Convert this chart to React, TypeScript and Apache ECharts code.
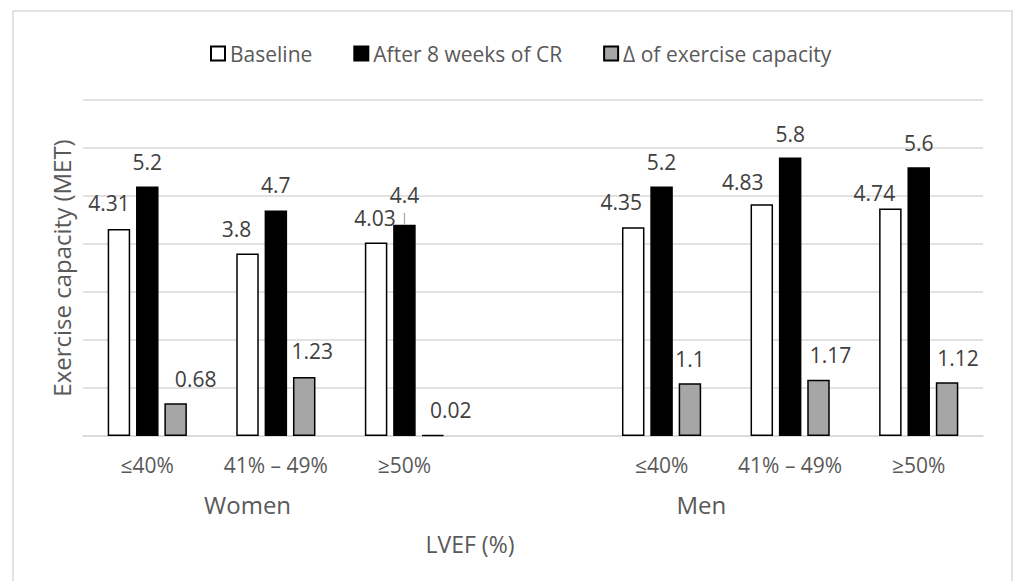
import React, { useEffect, useRef } from "react";
import * as echarts from "echarts";

// ---- data ----
const CATEGORIES = ["≤40%", "41% – 49%", "≥50%", "", "≤40%", "41% – 49%", "≥50%"];
const BASELINE = [4.31, 3.8, 4.03, null, 4.35, 4.83, 4.74];
const AFTER_CR = [5.2, 4.7, 4.4, null, 5.2, 5.8, 5.6];
const DELTA = [0.68, 1.23, 0.02, null, 1.1, 1.17, 1.12];
const SERIES_NAMES = ["Baseline", "After 8 weeks of CR", "Δ of exercise capacity"];
const GROUPS = ["Women", "Men"];
const Y_MIN = 0;
const Y_MAX = 7;
const Y_STEP = 1;

// ---- styling (label nudges in px, group label anchors in axis units) ----
const BASE_NUDGE = [[-10, -10.5], [-11, -9.5], [-1, -9], null, [-12, -9.5], [-19, -7], [-16, 0]];
const AFTER_NUDGE = [[0, -8.5], [0, -9.5], [0, -14.5], null, [0, -8.5], [0, -8], [0, -9]];
const DELTA_NUDGE = [[20, -8.5], [8, -10.5], [18, -9.5], null, [0, -8.5], [12, -9.5], [11, -8.5]];
const GROUP_AT = [0.78, 4.31];
const LEADER_INDEX = 2;

const FONT = "'Open Sans', 'Noto Sans', sans-serif";
const AXIS_GREY = "#595959";
const LABEL_GREY = "#404040";
const GRID_GREY = "#d9d9d9";

function build(values: (number | null)[], nudges: (number[] | null)[]) {
  return values.map((v, i) =>
    v == null ? "-" : { value: v, label: { offset: nudges[i] || [0, 0] } }
  );
}

export default function App() {
  const ref = useRef<HTMLDivElement>(null);

  useEffect(() => {
    document.body.style.margin = "0";
    if (!ref.current) return;
    const chart = echarts.init(ref.current, undefined, { renderer: "svg" });

    const labelBase = {
      show: true,
      position: "top",
      distance: 5,
      fontFamily: FONT,
      fontSize: 21,
      lineHeight: 21,
      color: LABEL_GREY,
    };

    const barCommon = {
      type: "bar",
      barWidth: 22.5,
      barGap: "26%",
      xAxisIndex: 0,
      yAxisIndex: 0,
    };

    const option: any = {
      animation: false,
      backgroundColor: "#ffffff",
      textStyle: { fontFamily: FONT },
      graphic: [
        {
          type: "rect",
          silent: true,
          shape: { x: 13, y: 11, width: 999, height: 640 },
          style: { fill: "none", stroke: GRID_GREY, lineWidth: 1.5 },
        },
      ],
      title: {
        text: "LVEF (%)",
        left: 465,
        top: 527,
        textAlign: "center",
        textStyle: { fontFamily: FONT, fontSize: 23, fontWeight: "normal", color: AXIS_GREY },
      },
      legend: {
        data: SERIES_NAMES,
        left: 205,
        top: 38,
        itemWidth: 14,
        itemHeight: 14,
        itemGap: 41,
        icon: "rect",
        textStyle: { fontFamily: FONT, fontSize: 21, color: AXIS_GREY },
      },
      grid: {
        left: 83,
        right: 30,
        top: 100,
        bottom: 145,
        containLabel: false,
        outerBoundsMode: "none",
      },
      xAxis: [
        {
          type: "category",
          data: CATEGORIES,
          boundaryGap: true,
          axisLine: { show: true, lineStyle: { color: GRID_GREY, width: 1.5 } },
          axisTick: { show: false },
          axisLabel: {
            interval: 0,
            margin: 18,
            fontFamily: FONT,
            fontSize: 21,
            color: AXIS_GREY,
          },
          splitLine: { show: false },
        },
        {
          type: "value",
          position: "bottom",
          min: -0.5,
          max: 6.5,
          axisLine: { show: false },
          axisTick: { show: false },
          splitLine: { show: false },
          axisLabel: {
            customValues: GROUP_AT,
            margin: 56,
            fontFamily: FONT,
            fontSize: 24,
            color: AXIS_GREY,
            formatter: (v: number) => {
              const idx = GROUP_AT.findIndex((g) => Math.abs(g - v) < 1e-6);
              return idx >= 0 ? GROUPS[idx] : "";
            },
          },
        },
      ],
      yAxis: {
        type: "value",
        min: Y_MIN,
        max: Y_MAX,
        interval: Y_STEP,
        name: "Exercise capacity (MET)",
        nameLocation: "middle",
        nameGap: 10,
        nameTextStyle: { fontFamily: FONT, fontSize: 24, color: AXIS_GREY },
        axisLine: { show: false },
        axisTick: { show: false },
        axisLabel: { show: false },
        splitLine: { show: true, lineStyle: { color: GRID_GREY, width: 1.5 } },
      },
      series: [
        {
          ...barCommon,
          name: SERIES_NAMES[0],
          itemStyle: { color: "#ffffff", borderColor: "#000000", borderWidth: 1.5 },
          label: labelBase,
          data: build(BASELINE, BASE_NUDGE),
        },
        {
          ...barCommon,
          name: SERIES_NAMES[1],
          itemStyle: { color: "#000000", borderColor: "#000000", borderWidth: 1.5 },
          label: labelBase,
          data: build(AFTER_CR, AFTER_NUDGE),
          markLine: {
            silent: true,
            symbol: ["none", "none"],
            label: { show: false },
            lineStyle: { color: "#a6a6a6", width: 1.2, type: "solid" },
            data: [
              [
                { coord: [LEADER_INDEX, AFTER_CR[LEADER_INDEX]] },
                { coord: [LEADER_INDEX, (AFTER_CR[LEADER_INDEX] as number) + 0.25] },
              ],
            ],
          },
        },
        {
          ...barCommon,
          name: SERIES_NAMES[2],
          itemStyle: { color: "#a6a6a6", borderColor: "#000000", borderWidth: 1.5 },
          label: labelBase,
          data: build(DELTA, DELTA_NUDGE),
        },
      ],
    };

    chart.setOption(option);
    return () => chart.dispose();
  }, []);

  return <div ref={ref} style={{ width: 1013, height: 581 }} />;
}
